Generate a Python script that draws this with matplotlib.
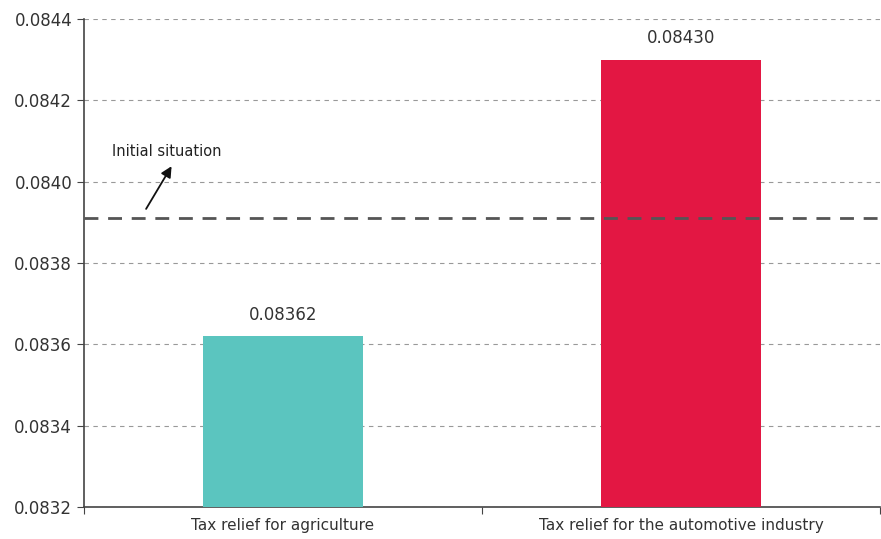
import matplotlib
matplotlib.use("Agg")
import matplotlib.pyplot as plt

categories = ["Tax relief for agriculture", "Tax relief for the automotive industry"]
values = [0.08362, 0.08430]
labels = ["0.08362", "0.08430"]
initial = 0.08391
yticks = [0.0832, 0.0834, 0.0836, 0.0838, 0.0840, 0.0842, 0.0844]
colors = ["#5BC5BF", "#E31743"]

plt.rcParams["font.family"] = ["DejaVu Sans"]

fig = plt.figure(figsize=(8.81, 5.39), dpi=100)
ax = fig.add_axes([84 / 881, 1 - 507 / 539, 1 - 84 / 881 - 1 / 881, (507 - 19) / 539])

x = list(range(len(categories)))
ax.bar(x, values, width=0.4, color=colors, zorder=3)
for xi, v, lab in zip(x, values, labels):
    ax.text(xi, v + 0.00003, lab, ha="center", va="bottom", fontsize=12, color="#333333")

# dashed line for the starting value
ax.axhline(initial, color="#555555", lw=2, dashes=(5, 3.5), zorder=4)
ax.text(-0.291, 0.084073, "Initial situation", ha="center", va="center",
        fontsize=10.5, color="#222222")
ax.annotate("", xy=(-0.28, 0.084038), xytext=(-0.344, 0.083933),
            arrowprops=dict(arrowstyle="-|>", color="#111111", lw=1.3, mutation_scale=16,
                            shrinkA=0, shrinkB=0))

ax.set_xlim(-0.5, 1.5)
ax.set_ylim(0.0832, 0.0844)
ax.set_yticks(yticks)
ax.set_yticklabels([f"{t:.4f}" for t in yticks], fontsize=12, color="#333333")
ax.yaxis.grid(True, color="#999999", lw=0.8, ls=(0, (4, 4)), zorder=0)

ax.set_xticks([-0.5, 0.5, 1.5])
ax.set_xticklabels([])
ax.set_xticks(x, minor=True)
ax.set_xticklabels(categories, minor=True, fontsize=11, color="#333333")
ax.tick_params(axis="x", which="minor", length=0, pad=8)
ax.tick_params(axis="x", which="major", length=5, color="#444444")
ax.tick_params(axis="y", length=5, color="#444444")

for s in ["top", "right"]:
    ax.spines[s].set_visible(False)
for s in ["left", "bottom"]:
    ax.spines[s].set_color("#444444")
    ax.spines[s].set_linewidth(1.2)

fig.savefig("out.png", dpi=100)
